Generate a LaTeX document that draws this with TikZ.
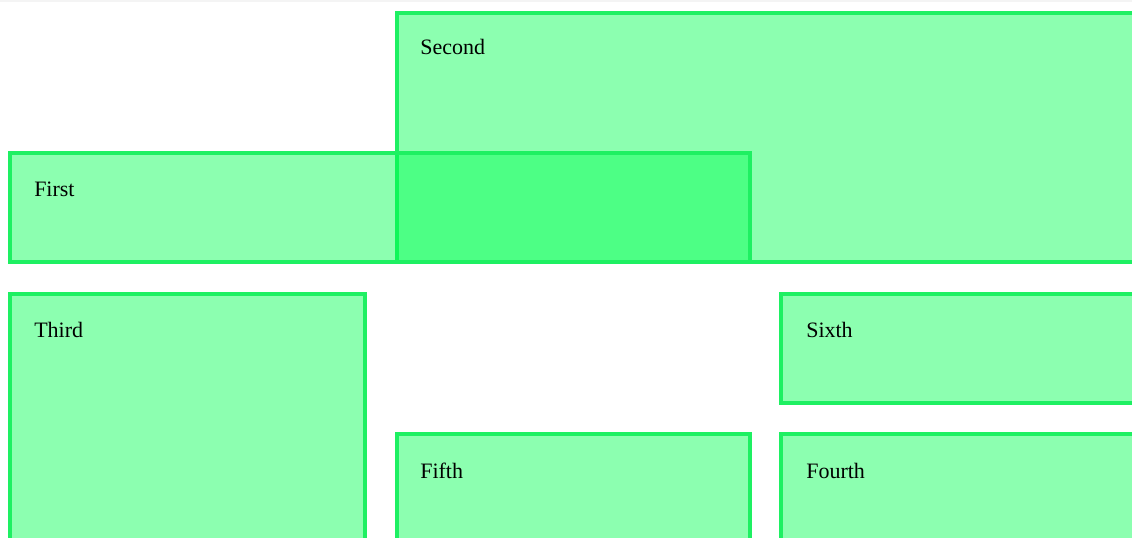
\documentclass[tikz,border=0pt]{standalone}
\usepackage{fontspec}
\setmainfont{Liberation Serif}
\usepackage{tikz}
\usetikzlibrary{positioning}
\definecolor{panelgreen}{RGB}{0,255,80}
\definecolor{edgegreen}{RGB}{30,240,98}
\definecolor{topgrey}{RGB}{244,244,244}
\begin{document}
\begin{tikzpicture}[x=0.75pt,y=-0.75pt,
 panel/.style={draw=edgegreen,line width=2.5pt,fill=panelgreen,fill opacity=0.45,draw opacity=1},
 tag/.style={anchor=base west,inner sep=0pt,font=\fontsize{16.5}{19}\selectfont}]
\useasboundingbox (0,0) rectangle (1132,538);
\clip (0,0) rectangle (1132,538);
\fill[topgrey] (0,0) rectangle (1132,2);
% upper row
\draw[panel] (397,13) rectangle (1145,262);
\node[tag] (second) at (420,55) {Second};
\draw[panel] (10,153) rectangle (750,262);
\node[tag] (first) at (34,197) {First};
% lower rows
\draw[panel] (10,294) rectangle (365,548);
\node[tag] (third) at (34,338) {Third};
\draw[panel] (781,294) rectangle (1145,403);
\node[tag] (sixth) at (806,338) {Sixth};
\draw[panel] (397,434) rectangle (750,548);
\node[tag] (fifth) at (420,478) {Fifth};
\draw[panel] (781,434) rectangle (1145,548);
\node[tag] (fourth) at (806,478) {Fourth};
\end{tikzpicture}
\end{document}
